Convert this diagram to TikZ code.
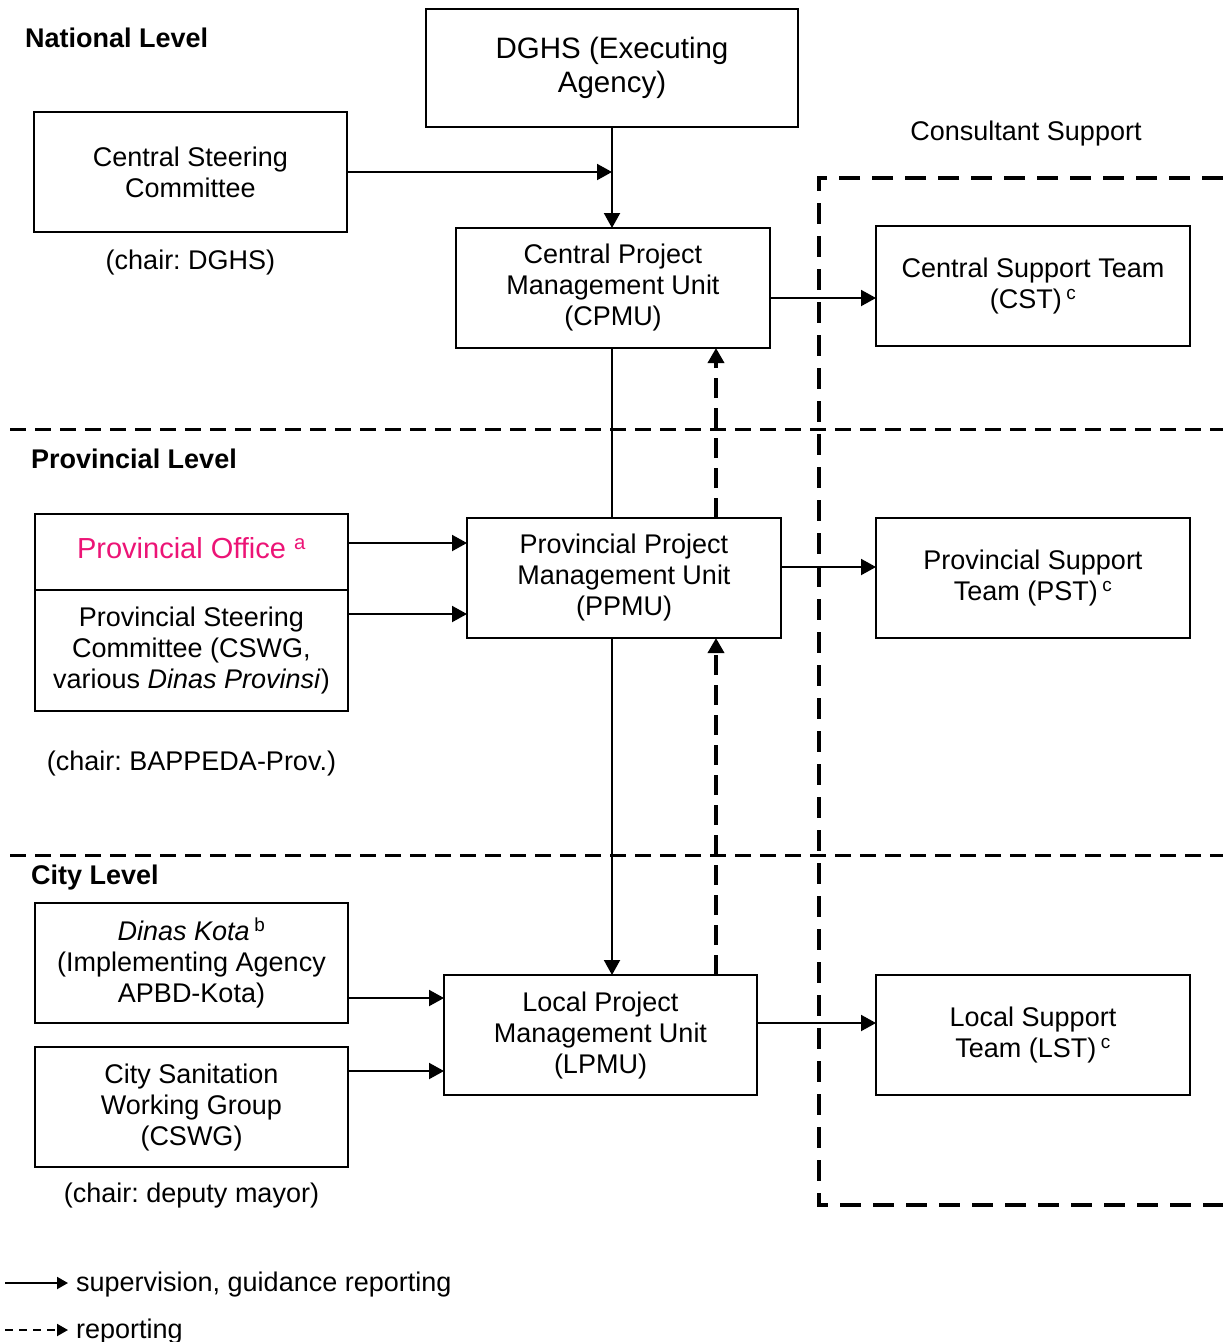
\documentclass[tikz,border=0pt]{standalone}
\usepackage{fontspec}
\setmainfont{Liberation Sans}
\usetikzlibrary{arrows.meta}
\usetikzlibrary{positioning}
\definecolor{officepink}{RGB}{236,20,118}
\newcommand{\boxfont}{\frenchspacing\fontsize{27}{31}\selectfont}
\newcommand{\bigboxfont}{\frenchspacing\fontsize{29.5}{34}\selectfont}

\begin{document}
\begin{tikzpicture}[x=1pt, y=-1pt, >={Triangle[length=15pt, width=16pt]},
	unit/.style={draw, line width=2.4pt, minimum width=313pt, minimum height=120pt, inner sep=0pt, outer sep=0pt, align=center, font=\boxfont},
	level/.style={font=\boxfont\bfseries, anchor=west, inner sep=0pt},
	note/.style={font=\boxfont, inner sep=0pt},
	link/.style={->, line width=2pt},
	report/.style={->, line width=3.5pt, dash pattern=on 20pt off 10pt},
	levelline/.style={line width=3pt, dash pattern=on 16pt off 9pt},
	teamline/.style={line width=3.5pt, dash pattern=on 21pt off 12pt},
	legendarrow/.style={->, line width=2pt, >={Triangle[length=11pt, width=12pt]}}]
					\useasboundingbox (0,0) rectangle (1223,1342);
					
					% Level headings
					\node (natlabel) [level] at (25,38) {National Level};
					\node (provlabel) [level] at (31,459) {Provincial Level};
					\node (citylabel) [level] at (31,878) {City Level};
					\node (conslabel) [note] at (1026,134) {Consultant Support};
					
					% National level units
					\node (dghs) [unit, font=\bigboxfont, minimum width=372pt, minimum height=118pt] at (612,68) {DGHS (Executing\\Agency)};
					\node (csc) [unit] at (190.5,172) {Central Steering\\Committee};
					\node (cscchair) [note, below=18pt of csc] {(chair: DGHS)};
					\node (cpmu) [unit, minimum width=314pt] at (613,288) {Central Project\\Management Unit\\(CPMU)};
					\node (cst) [unit, minimum width=314pt] at (1033,286) {Central Support Team\\(CST)\,\textsuperscript{c}};
					
					% Provincial level units
					\node (office) [unit, minimum height=76pt, text=officepink, font=\frenchspacing\fontsize{29}{34}\selectfont, text height=20pt, text depth=7pt] at (191.5,552) {Provincial Office \textsuperscript{a}};
					\node (psc) [unit, minimum height=121pt, below=0pt of office] {Provincial Steering\\Committee (CSWG,\\various \textit{Dinas Provinsi})};
					\node (pscchair) [note, below=40pt of psc] {(chair: BAPPEDA-Prov.)};
					\node (ppmu) [unit, minimum width=314pt] at (624,578) {Provincial Project\\Management Unit\\(PPMU)};
					\node (pst) [unit, minimum width=314pt] at (1033,578) {Provincial Support\\Team (PST)\,\textsuperscript{c}};
					
					% City level units
					\node (dinas) [unit] at (191.5,963) {\textit{Dinas Kota}\,\textsuperscript{b}\\(Implementing Agency\\APBD-Kota)};
					\node (cswg) [unit, below=24pt of dinas] {City Sanitation\\Working Group\\(CSWG)};
					\node (cswgchair) [note, below=16pt of cswg] {(chair: deputy mayor)};
					\node (lpmu) [unit] at (600.5,1035) {Local Project\\Management Unit\\(LPMU)};
					\node (lst) [unit, minimum width=314pt] at (1033,1035) {Local Support\\Team (LST)\,\textsuperscript{c}};
					
					% Level borders and consultant frame
					\draw[levelline] (10,429) -- (1223,429);
					\draw[levelline] (10,855) -- (1223,855);
					\draw[teamline] (1223,178) -- (819,178) -- (819,1205) -- (1223,1205);
					
					% Exit points of the side arrows
					\coordinate (spine) at (612,0);
					\coordinate (rep) at (716,0);
					\path ([yshift=-10pt]cpmu.east) coordinate (cpmuout);
					\path ([yshift=9pt]office.east) coordinate (officeout);
					\path ([yshift=36.5pt]psc.east) coordinate (pscout);
					\path ([yshift=11pt]ppmu.east) coordinate (ppmuout);
					\path ([yshift=-35pt]dinas.east) coordinate (dinasout);
					\path ([yshift=36pt]cswg.east) coordinate (cswgout);
					\path ([yshift=12pt]lpmu.east) coordinate (lpmuout);
					
					% Supervision arrows
					\draw[link] (dghs.south) -- (dghs.south |- cpmu.north);
					\draw[link] (csc.east) -- (csc.east -| dghs.south);
					\draw[link] (cpmuout) -- (cpmuout -| cst.west);
					\draw[line width=2pt] (spine |- cpmu.south) -- (spine |- ppmu.north);
					\draw[link] (spine |- ppmu.south) -- (spine |- lpmu.north);
					\draw[link] (officeout) -- (officeout -| ppmu.west);
					\draw[link] (pscout) -- (pscout -| ppmu.west);
					\draw[link] (ppmuout) -- (ppmuout -| pst.west);
					\draw[link] (dinasout) -- (dinasout -| lpmu.west);
					\draw[link] (cswgout) -- (cswgout -| lpmu.west);
					\draw[link] (lpmuout) -- (lpmuout -| lst.west);
					
					% Reporting arrows
					\draw[report] (rep |- ppmu.north) -- (rep |- cpmu.south);
					\draw[report] (rep |- lpmu.north) -- (rep |- ppmu.south);
					
					% Legend
					\coordinate (legsolid) at (5,1283);
					\coordinate (legdash) at (5,1330);
					\node (legsolidtext) [note, anchor=west, inner xsep=8pt] at (68,1285) {supervision, guidance reporting};
					\node (legdashtext) [note, anchor=west, inner xsep=8pt] at (68,1332) {reporting};
					\draw[legendarrow] (legsolid) -- (legsolid -| legsolidtext.west);
					\draw[legendarrow, dash pattern=on 8pt off 6pt] (legdash) -- (legdash -| legdashtext.west);
				\end{tikzpicture}
\end{document}
